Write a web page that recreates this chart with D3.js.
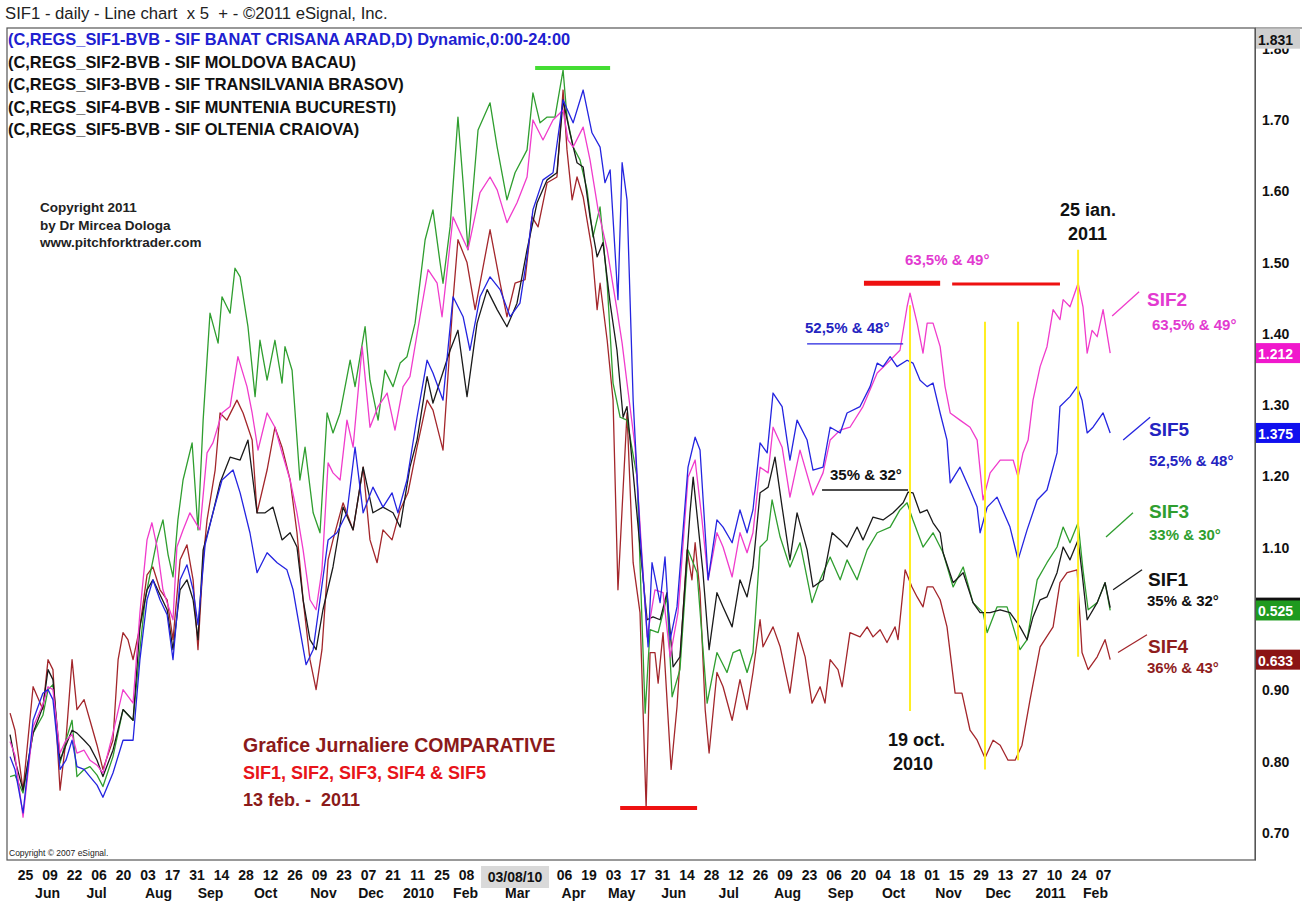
<!DOCTYPE html>
<html>
<head>
<meta charset="utf-8">
<script src="https://cdn.jsdelivr.net/npm/d3@7"></script>
<style>
  body { margin: 0; background: #fff; }
  svg { display: block; }
  text { font-family: Arial, "Liberation Sans", sans-serif; white-space: pre; }
</style>
</head>
<body>
<div id="chart"></div>
<script>
// x = trading session counted from 25 May 2009, y = overlay price scale
const sif1 = [[-6.1,0.838],[-4.1,0.802],[-0.8,0.760],[3.3,0.840],[7.3,0.877],[9.4,0.929],[11.4,0.915],[14.3,0.802],[16.7,0.823],[19.2,0.844],[21.2,0.840],[24.1,0.830],[26.5,0.821],[29.4,0.802],[31.8,0.779],[35.9,0.816],[40.0,0.873],[44.1,0.858],[46.9,0.989],[49.8,1.041],[52.2,1.055],[55.1,1.034],[58.0,1.013],[60.4,0.957],[63.3,1.041],[66.1,1.055],[68.6,1.027],[70.6,0.971],[72.7,1.097],[76.7,1.149],[79.6,1.191],[83.7,1.227],[87.8,1.223],[91.0,1.251],[94.7,1.149],[98.0,1.149],[101.2,1.157],[104.9,1.111],[108.2,1.121],[111.0,1.101],[113.5,1.027],[116.3,0.971],[118.8,0.957],[121.6,1.013],[125.7,1.073],[129.8,1.157],[133.9,1.125],[138.0,1.213],[142.0,1.149],[146.1,1.157],[150.2,1.149],[153.1,1.129],[157.1,1.213],[160.0,1.251],[164.1,1.340],[166.5,1.303],[173.5,1.377],[176.7,1.405],[180.4,1.312],[184.5,1.415],[188.6,1.462],[192.7,1.434],[196.7,1.410],[200.8,1.443],[204.9,1.518],[209.0,1.584],[213.1,1.616],[217.1,1.626],[219.6,1.728],[222.4,1.682],[225.3,1.640],[227.8,1.634],[230.6,1.564],[233.5,1.508],[235.9,1.528],[238.8,1.443],[241.6,1.377],[244.1,1.283],[245.7,1.298],[251.0,1.101],[253.9,0.999],[256.3,1.003],[259.2,0.999],[262.0,1.037],[264.5,0.933],[267.3,0.947],[271.4,1.149],[272.7,1.199],[276.7,1.065],[279.2,0.957],[282.4,1.037],[284.9,1.017],[288.6,0.989],[291.8,1.055],[294.7,1.031],[297.1,1.073],[300.0,1.177],[303.3,1.185],[306.1,1.227],[309.0,1.157],[312.2,1.083],[315.1,1.149],[319.2,1.097],[321.6,1.045],[325.7,1.055],[329.4,1.121],[332.7,1.111],[335.5,1.101],[339.6,1.129],[342.0,1.111],[346.1,1.143],[350.2,1.139],[354.3,1.149],[358.4,1.163],[360.4,1.178],[362.4,1.177],[365.3,1.149],[368.2,1.153],[370.6,1.135],[373.5,1.121],[374.7,1.093],[378.8,1.051],[382.9,1.065],[386.9,1.023],[389.8,1.009],[393.9,1.009],[398.0,1.013],[402.0,1.009],[406.1,0.989],[409.0,0.971],[411.4,1.003],[414.3,1.027],[417.1,1.031],[421.2,1.065],[423.7,1.101],[426.5,1.083],[429.8,1.111],[431.4,1.065],[433.5,0.999],[437.6,1.023],[440.8,1.051],[442.9,1.016]];

const sif2 = [[-6.1,0.828],[-4.1,0.809],[-0.8,0.722],[3.3,0.849],[7.3,0.880],[9.4,0.905],[11.4,0.901],[14.3,0.812],[16.7,0.830],[19.2,0.838],[21.2,0.812],[24.1,0.816],[26.5,0.802],[29.4,0.795],[31.8,0.784],[35.9,0.840],[40.0,0.901],[44.1,0.882],[46.9,1.009],[49.8,1.111],[51.8,1.135],[53.9,1.101],[56.3,1.041],[58.0,1.023],[60.4,0.999],[62.0,1.101],[64.5,1.125],[67.3,1.149],[71.4,1.125],[74.3,1.233],[76.7,1.247],[80.4,1.289],[83.7,1.298],[86.9,1.368],[90.6,1.326],[92.7,1.289],[95.1,1.237],[98.8,1.289],[102.0,1.269],[104.9,1.233],[108.2,1.195],[111.0,1.149],[113.5,1.097],[116.3,1.027],[118.8,1.013],[121.2,1.069],[123.7,1.219],[125.7,1.205],[128.6,1.195],[131.4,1.279],[133.9,1.241],[137.6,1.382],[140.8,1.269],[144.1,1.298],[147.8,1.317],[151.0,1.265],[154.3,1.326],[157.1,1.340],[161.2,1.424],[164.5,1.490],[168.2,1.471],[170.2,1.424],[174.7,1.564],[177.6,1.542],[180.8,1.518],[185.7,1.598],[189.8,1.620],[192.7,1.602],[196.7,1.556],[200.8,1.584],[204.9,1.620],[207.3,1.700],[211.4,1.672],[215.5,1.700],[219.6,1.714],[221.6,1.672],[223.7,1.662],[227.8,1.690],[230.6,1.644],[233.9,1.574],[237.6,1.518],[241.6,1.434],[243.7,1.387],[245.7,1.331],[249.0,1.241],[253.9,0.975],[257.1,1.041],[260.4,1.037],[263.3,0.947],[266.5,1.009],[270.6,1.199],[273.5,1.223],[276.3,1.139],[278.8,1.055],[282.4,1.121],[284.9,1.101],[288.6,1.059],[291.8,1.121],[294.7,1.093],[297.1,1.121],[300.0,1.213],[303.3,1.205],[305.3,1.269],[309.0,1.241],[312.2,1.171],[316.3,1.237],[321.6,1.174],[325.7,1.205],[328.6,1.251],[332.7,1.265],[336.7,1.269],[342.0,1.298],[347.8,1.345],[353.1,1.363],[357.1,1.377],[360.0,1.438],[361.2,1.457],[364.1,1.415],[366.5,1.373],[368.2,1.415],[370.6,1.415],[373.5,1.382],[375.5,1.326],[377.6,1.289],[381.6,1.279],[385.7,1.269],[388.6,1.251],[391.0,1.167],[393.9,1.205],[398.0,1.223],[403.3,1.223],[405.3,1.199],[407.3,1.233],[409.4,1.251],[411.4,1.307],[414.3,1.354],[417.1,1.382],[419.6,1.434],[422.4,1.420],[423.7,1.448],[426.5,1.438],[429.8,1.471],[431.8,1.438],[433.5,1.373],[435.5,1.405],[437.6,1.396],[440.0,1.434],[442.9,1.373]];

const sif3 = [[-6.1,0.779],[-4.1,0.781],[-0.8,0.756],[3.3,0.840],[7.3,0.865],[9.4,0.901],[11.4,0.908],[14.3,0.798],[16.7,0.830],[19.2,0.858],[21.2,0.779],[24.1,0.789],[26.5,0.793],[29.4,0.781],[31.8,0.765],[35.9,0.807],[40.0,0.873],[44.1,0.858],[46.9,0.957],[49.0,1.027],[51.0,1.062],[53.9,1.111],[56.3,1.139],[58.4,1.090],[60.4,1.059],[62.4,1.139],[64.5,1.195],[68.2,1.247],[70.6,1.125],[72.7,1.279],[75.5,1.429],[78.8,1.387],[80.4,1.452],[83.7,1.429],[85.7,1.492],[87.8,1.480],[91.0,1.410],[93.9,1.312],[95.9,1.391],[98.8,1.335],[102.0,1.391],[104.9,1.331],[106.1,1.382],[109.0,1.349],[112.2,1.195],[114.3,1.241],[117.6,1.149],[120.4,1.121],[123.3,1.289],[125.7,1.261],[128.6,1.289],[132.7,1.363],[134.7,1.326],[138.8,1.410],[140.8,1.335],[144.1,1.279],[146.9,1.349],[150.2,1.326],[153.1,1.359],[155.9,1.368],[159.2,1.415],[163.3,1.532],[166.5,1.574],[169.4,1.500],[170.6,1.471],[173.5,1.550],[176.7,1.704],[178.8,1.612],[180.8,1.518],[184.9,1.686],[189.8,1.724],[192.7,1.662],[196.7,1.588],[200.0,1.626],[204.9,1.658],[207.3,1.738],[210.2,1.696],[213.1,1.704],[216.3,1.704],[219.6,1.770],[221.2,1.704],[223.7,1.662],[226.5,1.644],[229.4,1.602],[231.8,1.536],[234.7,1.578],[237.6,1.471],[240.0,1.331],[242.9,1.283],[245.7,1.279],[249.8,1.199],[253.1,0.868],[255.1,0.985],[258.4,0.981],[262.0,1.031],[264.1,0.891],[267.3,0.929],[270.6,1.097],[274.3,1.065],[278.4,0.882],[282.4,0.953],[286.5,0.925],[289.0,0.953],[291.8,0.957],[294.7,0.925],[297.1,0.953],[300.0,1.101],[302.9,1.111],[304.9,1.167],[308.2,1.115],[312.2,1.073],[316.3,1.107],[321.2,1.023],[324.5,1.055],[328.6,1.087],[332.7,1.055],[335.5,1.083],[339.6,1.055],[343.7,1.097],[347.8,1.121],[353.1,1.129],[357.1,1.153],[360.0,1.163],[362.4,1.139],[366.5,1.101],[370.6,1.121],[374.7,1.093],[378.8,1.045],[382.9,1.073],[386.9,1.023],[391.0,1.009],[392.7,0.981],[396.7,1.017],[400.8,1.017],[403.3,0.989],[406.1,0.957],[409.0,0.971],[413.1,1.055],[417.1,1.079],[421.2,1.101],[423.7,1.129],[426.5,1.107],[429.8,1.135],[431.8,1.069],[433.9,1.013],[437.6,1.023],[440.8,1.051],[442.9,1.012]];

const sif4 = [[-6.1,0.868],[-4.1,0.844],[-0.8,0.760],[3.3,0.905],[7.3,0.873],[9.4,0.943],[11.4,0.929],[14.3,0.760],[16.7,0.830],[19.2,0.943],[21.2,0.873],[24.1,0.887],[26.5,0.858],[29.4,0.823],[31.8,0.789],[35.9,0.830],[38.0,0.943],[40.0,0.981],[42.0,0.971],[44.1,0.943],[46.9,0.989],[49.8,1.062],[52.2,1.073],[55.1,1.041],[58.0,1.027],[60.4,0.971],[63.3,1.083],[66.1,1.104],[68.6,1.055],[70.6,0.957],[72.7,1.083],[74.3,1.139],[77.6,1.209],[79.6,1.289],[82.4,1.279],[86.5,1.307],[89.0,1.289],[92.7,1.251],[94.7,1.149],[98.8,1.209],[102.0,1.269],[104.9,1.241],[108.2,1.195],[111.0,1.121],[113.5,1.027],[116.3,0.943],[118.8,0.901],[121.2,0.957],[123.7,1.083],[125.7,1.111],[129.8,1.163],[133.9,1.125],[138.0,1.213],[140.8,1.111],[143.7,1.079],[146.1,1.125],[149.8,1.111],[153.1,1.153],[156.3,1.177],[160.0,1.241],[164.1,1.307],[166.5,1.293],[170.6,1.237],[174.7,1.448],[176.7,1.532],[180.4,1.500],[183.7,1.434],[189.8,1.546],[193.9,1.471],[196.7,1.424],[200.0,1.471],[204.1,1.476],[206.9,1.564],[209.4,1.550],[213.1,1.612],[217.1,1.620],[219.6,1.742],[221.2,1.658],[223.3,1.588],[225.3,1.620],[227.8,1.592],[231.4,1.518],[233.5,1.434],[234.7,1.471],[237.6,1.391],[240.0,1.307],[242.0,1.041],[245.7,1.289],[248.2,1.079],[251.0,1.009],[253.5,0.735],[255.1,0.953],[257.1,0.953],[258.4,0.910],[260.4,0.981],[263.7,0.789],[266.1,0.877],[270.2,1.097],[272.2,1.055],[273.5,1.107],[275.5,1.037],[277.6,0.873],[279.2,0.812],[282.4,0.925],[284.9,0.905],[288.6,0.858],[291.8,0.915],[294.7,0.873],[297.1,0.925],[300.0,0.999],[301.2,0.961],[305.3,0.989],[308.2,0.961],[312.2,0.896],[315.5,0.981],[318.4,0.947],[321.2,0.882],[324.5,0.905],[326.5,0.882],[328.6,0.943],[331.8,0.929],[333.5,0.905],[336.7,0.981],[340.8,0.975],[343.7,0.989],[346.1,0.975],[349.0,0.985],[351.8,0.967],[355.1,0.989],[356.3,0.971],[359.2,1.069],[362.0,1.045],[364.1,1.031],[366.5,1.017],[368.2,1.045],[370.6,1.045],[373.5,1.027],[376.3,0.989],[379.6,0.896],[382.4,0.896],[385.7,0.844],[388.6,0.830],[391.8,0.805],[395.1,0.830],[398.0,0.823],[401.2,0.802],[404.1,0.802],[406.9,0.823],[410.2,0.887],[414.3,0.961],[419.6,0.989],[422.4,1.051],[425.3,1.065],[429.4,1.069],[431.4,0.953],[433.9,0.929],[437.6,0.947],[440.8,0.971],[442.9,0.943]];

const sif5 = [[-6.1,0.807],[-4.1,0.789],[-0.8,0.728],[3.3,0.858],[7.3,0.896],[9.4,0.901],[11.4,0.887],[14.3,0.789],[16.7,0.802],[19.2,0.830],[21.2,0.793],[24.1,0.789],[26.5,0.779],[29.4,0.767],[31.8,0.750],[35.9,0.784],[40.0,0.830],[44.1,0.830],[46.9,0.943],[49.8,1.027],[52.2,1.055],[55.1,1.027],[58.0,1.006],[60.4,0.943],[63.3,1.055],[66.1,1.076],[68.6,1.041],[70.6,0.992],[73.5,1.104],[76.7,1.149],[80.4,1.195],[84.9,1.209],[87.8,1.177],[91.8,1.121],[94.7,1.065],[98.8,1.093],[102.9,1.079],[106.9,1.069],[109.4,1.041],[112.2,0.985],[114.7,0.936],[117.6,0.957],[120.4,1.027],[123.7,1.111],[127.3,1.121],[131.4,1.149],[134.7,1.241],[138.0,1.149],[142.0,1.185],[146.1,1.157],[149.8,1.177],[152.2,1.149],[155.9,1.195],[160.0,1.283],[164.1,1.363],[166.5,1.345],[170.6,1.307],[174.7,1.452],[178.8,1.424],[181.6,1.377],[185.7,1.452],[189.8,1.480],[193.9,1.462],[198.0,1.424],[202.0,1.443],[204.9,1.508],[207.3,1.574],[211.4,1.616],[215.5,1.626],[219.6,1.728],[223.7,1.696],[227.8,1.742],[231.4,1.682],[234.7,1.662],[236.7,1.612],[238.8,1.630],[242.0,1.448],[243.7,1.640],[245.7,1.588],[248.2,1.307],[251.0,1.121],[254.3,0.961],[255.9,1.079],[259.2,1.023],[261.2,1.087],[263.3,0.971],[266.1,1.017],[270.6,1.213],[273.5,1.255],[275.5,1.237],[278.8,1.055],[282.4,1.139],[284.9,1.129],[288.6,1.107],[291.8,1.153],[294.7,1.121],[297.1,1.153],[300.0,1.247],[302.9,1.233],[305.3,1.317],[309.0,1.298],[312.2,1.223],[315.1,1.279],[319.2,1.251],[321.6,1.209],[325.7,1.213],[328.6,1.269],[332.7,1.261],[335.5,1.289],[340.8,1.298],[344.9,1.326],[347.8,1.359],[350.2,1.354],[353.1,1.368],[355.9,1.354],[360.0,1.363],[362.4,1.359],[365.3,1.335],[368.2,1.326],[370.6,1.331],[373.5,1.289],[376.3,1.251],[377.6,1.191],[381.6,1.213],[385.7,1.181],[388.6,1.157],[389.8,1.121],[392.7,1.157],[396.7,1.171],[402.0,1.129],[405.3,1.083],[408.98,1.125],[413.1,1.167],[417.1,1.181],[421.2,1.233],[422.4,1.298],[426.5,1.312],[429.4,1.326],[431.4,1.307],[433.5,1.261],[435.9,1.269],[440.0,1.289],[442.9,1.261]];

// bottom axis: one label every 10 sessions
const dayLabels = ["25","09","22","06","20","03","17","31","14","28","12","26","09","23","07","21","11","25","08","22","08","22","06","19","03","17","31","14","28","12","26","09","23","06","20","04","18","01","15","29","13","27","10","24","07"];
const monthLabels = ["Jun","Jul","Aug","Sep","Oct","Nov","Dec","2010","Feb","Mar","Apr","May","Jun","Jul","Aug","Sep","Oct","Nov","Dec","2011","Feb"];
const monthAt = [9,29,54.3,75.5,98,121.6,141,160.4,179.6,200.8,223.7,243.3,264.5,287,311,332.7,354.3,376.7,397,418.4,436.7];
// 1.00 sits under the price boxes and is not shown
const yTicks = [0.7,0.8,0.9,1.1,1.2,1.3,1.4,1.5,1.6,1.7,1.8];

// last-price boxes on the right axis (SIF1's box is hidden under SIF3's)
const lastPrices = ["","1.212","0.525","0.633","1.375"];
const topPrice = "1.831";
const cursorAt = 200, cursorText = "03/08/10";

const legendLines = [
  "(C,REGS_SIF1-BVB - SIF BANAT CRISANA ARAD,D) Dynamic,0:00-24:00",
  "(C,REGS_SIF2-BVB - SIF MOLDOVA BACAU)",
  "(C,REGS_SIF3-BVB - SIF TRANSILVANIA BRASOV)",
  "(C,REGS_SIF4-BVB - SIF MUNTENIA BUCURESTI)",
  "(C,REGS_SIF5-BVB - SIF OLTENIA CRAIOVA)"
];

// annotation marks, in sessions / price units
const yellowLines = [[361.2,1.440,0.871],[391.8,1.417,0.789],[405.3,1.417,0.802],[429.8,1.518,0.947]];

const W = 1314, H = 904;
const plot = {left: 7, right: 1255, top: 28, bottom: 860};
const FONT = "Arial, 'Liberation Sans', sans-serif";

const svg = d3.select("#chart").append("svg")
  .attr("width", W).attr("height", H);

const x = d3.scaleLinear().domain([-7.35, 502]).range([plot.left, plot.right]);
const y = d3.scaleLinear().domain([0.662, 1.829]).range([plot.bottom, plot.top]);

svg.append("defs").append("clipPath").attr("id", "clip")
  .append("rect")
    .attr("x", plot.left).attr("y", plot.top)
    .attr("width", plot.right - plot.left).attr("height", plot.bottom - plot.top);

// frame
svg.append("rect")
  .attr("x", plot.left).attr("y", plot.top)
  .attr("width", plot.right - plot.left).attr("height", plot.bottom - plot.top)
  .attr("fill", "#fff").attr("stroke", "#555").attr("stroke-width", 1.2);
svg.append("line")
  .attr("x1", plot.right).attr("x2", 1302).attr("y1", plot.top).attr("y2", plot.top)
  .attr("stroke", "#555");

// title
svg.append("text").attr("x", 5).attr("y", 19)
  .attr("font-size", 16.7).attr("fill", "#222")
  .text("SIF1 - daily - Line chart  x 5  + - \u00a92011 eSignal, Inc.");

// legend
svg.append("g").selectAll("text")
  .data(legendLines)
  .join("text")
    .attr("x", 8)
    .attr("y", (d, i) => 45 + i * 22.5)
    .attr("font-size", 16.4).attr("font-weight", "bold")
    .attr("fill", (d, i) => i == 0 ? "#2020d0" : "#111")
    .text(d => d);

// copyright block
const cp = ["Copyright 2011", "by Dr Mircea Dologa", "www.pitchforktrader.com"];
svg.append("g").selectAll("text").data(cp).join("text")
  .attr("x", 40).attr("y", (d, i) => 212 + i * 17.5)
  .attr("font-size", 13.5).attr("font-weight", "bold").attr("fill", "#222")
  .text(d => d);

svg.append("text").attr("x", 9).attr("y", 856)
  .attr("font-size", 8.5).attr("fill", "#222")
  .text("Copyright \u00a9 2007 eSignal.");

// lines
const line = d3.line().x(d => x(d[0])).y(d => y(d[1]));
const series = [
  {name: "SIF4", data: sif4, color: "#a3262b"},
  {name: "SIF3", data: sif3, color: "#2f9e2f"},
  {name: "SIF1", data: sif1, color: "#1a1a1a"},
  {name: "SIF2", data: sif2, color: "#f03ccc"},
  {name: "SIF5", data: sif5, color: "#2424e0"}
];
const gLines = svg.append("g").attr("clip-path", "url(#clip)");
gLines.selectAll("path")
  .data(series)
  .join("path")
    .attr("d", d => line(d.data))
    .attr("fill", "none")
    .attr("stroke", d => d.color)
    .attr("stroke-width", 1.3)
    .attr("stroke-linejoin", "round");

// annotations
const ann = svg.append("g");
function hbar(s0, s1, v, color, w) {
  ann.append("line")
    .attr("x1", x(s0)).attr("x2", x(s1)).attr("y1", y(v)).attr("y2", y(v))
    .attr("stroke", color).attr("stroke-width", w);
}
function seg(s0, v0, s1, v1, color) {
  ann.append("line")
    .attr("x1", x(s0)).attr("y1", y(v0)).attr("x2", x(s1)).attr("y2", y(v1))
    .attr("stroke", color).attr("stroke-width", 1.3);
}
hbar(208.2, 238.8, 1.773, "#44dd33", 4);
hbar(242.9, 274.3, 0.735, "#ee1111", 4);
hbar(342.4, 373.5, 1.471, "#ee1111", 5);
hbar(378.4, 422.4, 1.470, "#ee1111", 3);
hbar(319.2, 358.4, 1.386, "#2424e0", 1.3);
hbar(325.3, 360.4, 1.181, "#111", 1.3);

ann.selectAll("line.yl")
  .data(yellowLines)
  .join("line").attr("class", "yl")
    .attr("x1", d => x(d[0])).attr("x2", d => x(d[0]))
    .attr("y1", d => y(d[1])).attr("y2", d => y(d[2]))
    .attr("stroke", "#ffee22").attr("stroke-width", 2);

seg(443.7, 1.425, 454.7, 1.459, "#f03ccc");
seg(448.2, 1.251, 459.2, 1.283, "#2424e0");
seg(441.2, 1.115, 452.2, 1.149, "#2f9e2f");
seg(444.1, 1.041, 455.9, 1.069, "#1a1a1a");
seg(446.1, 0.953, 457.9, 0.978, "#a3262b");

function label(px, py, txt, color, size) {
  ann.append("text").attr("x", px).attr("y", py)
    .attr("font-size", size).attr("font-weight", "bold")
    .attr("fill", color).text(txt);
}
label(905, 265, "63,5% & 49\u00b0", "#e23ad0", 15);
label(805, 333, "52,5% & 48\u00b0", "#2424c0", 15);
label(830, 480, "35% & 32\u00b0", "#111", 15);

label(1147, 306, "SIF2", "#e23ad0", 19);
label(1152, 330, "63,5% & 49\u00b0", "#e23ad0", 15);
label(1149, 436, "SIF5", "#2424c0", 19);
label(1149, 466, "52,5% & 48\u00b0", "#2424c0", 15);
label(1149, 518, "SIF3", "#2f9e2f", 19);
label(1149, 540, "33% & 30\u00b0", "#2f9e2f", 15);
label(1148, 586, "SIF1", "#111", 19);
label(1147, 606, "35% & 32\u00b0", "#111", 15);
label(1148, 653, "SIF4", "#8f1d1d", 19);
label(1147, 673, "36% & 43\u00b0", "#8f1d1d", 15);

label(1060, 216, "25 ian.", "#111", 18);
label(1068, 240, "2011", "#111", 18);
label(888, 746, "19 oct.", "#111", 18);
label(893, 770, "2010", "#111", 18);

label(243, 752, "Grafice Jurnaliere COMPARATIVE", "#8b1a1a", 19.5);
label(243, 779, "SIF1, SIF2, SIF3, SIF4 & SIF5", "#e8141a", 18);
label(243, 806, "13 feb. -  2011", "#8b1a1a", 18);

// right axis
const yAxis = svg.append("g")
  .attr("transform", `translate(${plot.right},0)`)
  .call(d3.axisRight(y).tickValues(yTicks).tickSize(0).tickPadding(7).tickFormat(d3.format(".2f")));
yAxis.select(".domain").attr("stroke", "#555");
yAxis.selectAll("text")
  .attr("font-size", 14).attr("font-weight", "bold").attr("fill", "#111")
  .attr("font-family", FONT);

// price boxes at each series' last value
const boxes = [
  {v: sif1[sif1.length - 1][1], t: lastPrices[0], bg: "#111", fg: "#fff"},
  {v: sif2[sif2.length - 1][1], t: lastPrices[1], bg: "#f018cc", fg: "#fff"},
  {v: sif3[sif3.length - 1][1], t: lastPrices[2], bg: "#1f9a1f", fg: "#fff"},
  {v: sif4[sif4.length - 1][1], t: lastPrices[3], bg: "#8b1414", fg: "#fff"},
  {v: sif5[sif5.length - 1][1], t: lastPrices[4], bg: "#1010ee", fg: "#fff"},
  {v: y.domain()[1] - 0.015, t: topPrice, bg: "#cfcfcf", fg: "#111"}
];
const gb = svg.append("g").selectAll("g").data(boxes).join("g")
  .attr("transform", d => `translate(${plot.right + 1},${y(d.v)})`);
gb.append("rect").attr("x", 0).attr("y", -10).attr("width", 44).attr("height", 20)
  .attr("fill", d => d.bg);
gb.filter(d => d.t).append("text").attr("x", 2).attr("y", 6)
  .attr("font-size", 14).attr("font-weight", "bold")
  .attr("fill", d => d.fg).text(d => d.t);

// bottom axis: day row (ticks under the date cursor are hidden) and month row
const dayTicks = d3.range(0, 450, 10).filter(s => Math.abs(s - cursorAt) > 15);
const dayAxis = svg.append("g")
  .attr("transform", `translate(0,${plot.bottom})`)
  .call(d3.axisBottom(x).tickValues(dayTicks).tickSize(0).tickPadding(10)
    .tickFormat(d => dayLabels[d / 10]));
dayAxis.select(".domain").remove();
dayAxis.selectAll("text")
  .attr("font-size", 14).attr("font-weight", "bold").attr("fill", "#111")
  .attr("font-family", FONT);

const monAxis = svg.append("g")
  .attr("transform", `translate(0,${plot.bottom + 18})`)
  .call(d3.axisBottom(x).tickValues(monthAt).tickSize(0).tickPadding(10)
    .tickFormat((d, i) => monthLabels[i]));
monAxis.select(".domain").remove();
monAxis.selectAll("text")
  .attr("font-size", 14).attr("font-weight", "bold").attr("fill", "#111")
  .attr("font-family", FONT);

// date cursor box
const cur = svg.append("g").attr("transform", `translate(${x(cursorAt)},${plot.bottom + 17})`);
cur.append("rect").attr("x", -34).attr("y", -11).attr("width", 68).attr("height", 22).attr("fill", "#d9d9d9");
cur.append("text").attr("text-anchor", "middle").attr("y", 5)
  .attr("font-size", 14).attr("font-weight", "bold").attr("fill", "#111").text(cursorText);
</script>
</body>
</html>
